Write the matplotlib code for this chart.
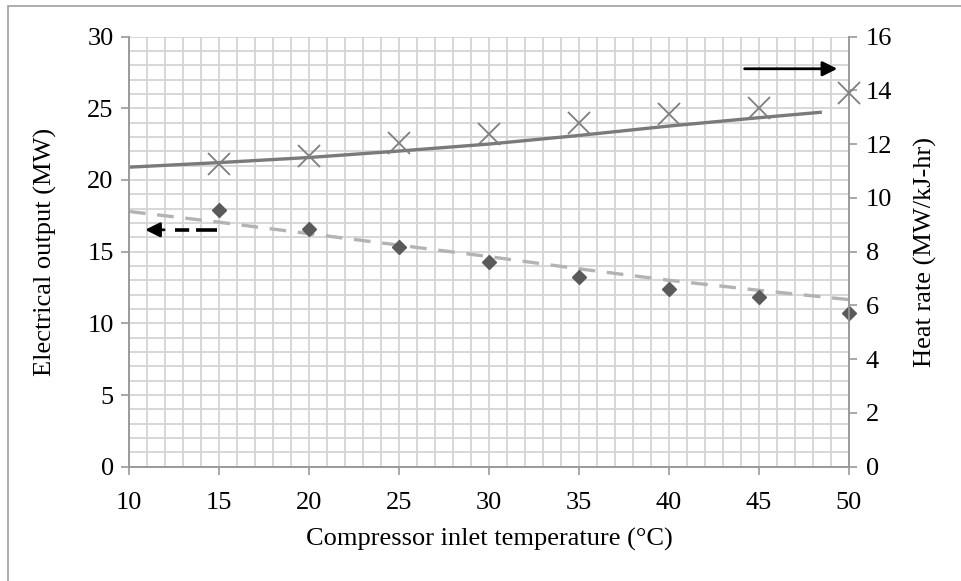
import matplotlib
matplotlib.use('Agg')
import matplotlib.pyplot as plt
from matplotlib.ticker import MultipleLocator
from matplotlib.patches import Rectangle

plt.rcParams['font.family'] = ['Liberation Serif', 'DejaVu Serif']

# data
temps = [15, 20, 25, 30, 35, 40, 45, 50]
elec_output = [17.91, 16.59, 15.31, 14.24, 13.26, 12.42, 11.84, 10.75]   # MW, left axis
heat_rate = [11.27, 11.54, 12.03, 12.39, 12.79, 13.10, 13.33, 13.89]     # right axis

# trend lines as drawn in the source chart
elec_trend_x = [10, 15, 20, 25, 30, 35, 40, 45, 50]
elec_trend_y = [17.8, 17.05, 16.25, 15.45, 14.65, 13.8, 13.0, 12.3, 11.65]
heat_trend_x = [10, 15, 20, 25, 30, 35, 40, 45, 48.4]
heat_trend_y = [11.14, 11.31, 11.5, 11.74, 12.0, 12.32, 12.67, 12.98, 13.18]

GRID = '#d4d4d4'
SPINE = '#9a9a9a'
FS = 19

fig = plt.figure(figsize=(9.62, 5.81), dpi=100)
fig.patches.append(Rectangle((8/962, -0.5), 2.0, 1.5 - 6/581, transform=fig.transFigure,
                             fill=False, edgecolor='#a0a0a0', lw=1.2))

ax = fig.add_axes([129/962, 1 - 466.7/581, 720/962, 430.2/581])
ax2 = ax.twinx()

ax.set_xlim(10, 50)
ax.set_ylim(0, 30)
ax2.set_ylim(0, 16)

ax.xaxis.set_major_locator(MultipleLocator(5))
ax.xaxis.set_minor_locator(MultipleLocator(1))
ax.yaxis.set_major_locator(MultipleLocator(5))
ax.yaxis.set_minor_locator(MultipleLocator(1))
ax2.yaxis.set_major_locator(MultipleLocator(2))

ax.set_axisbelow(True)
ax.grid(which='both', color=GRID, lw=1.3)
ax.tick_params(which='minor', length=0)
ax.tick_params(which='major', length=6, width=1.2, color=SPINE, labelsize=FS, pad=5)
ax.tick_params(axis='x', pad=12)
ax2.tick_params(which='major', length=6, width=1.2, color=SPINE, labelsize=FS, pad=6)

for a in (ax, ax2):
    a.spines['top'].set_visible(False)
    for s in ('left', 'right', 'bottom'):
        a.spines[s].set_color(SPINE)
        a.spines[s].set_linewidth(1.2)

# electrical output (left)
ax.plot(elec_trend_x, elec_trend_y, color='#b3b3b3', lw=2.4, ls=(0, (5, 3.5)), zorder=2)
ax.plot(temps, elec_output, 'D', color='#5a5a5a', ms=7.5, zorder=3, clip_on=False)

# heat rate (right)
ax2.plot(heat_trend_x, heat_trend_y, color='#7a7a7a', lw=2.4, zorder=2)
ax2.plot(temps, heat_rate, 'x', color='#7f7f7f', ms=16, mew=1.3, zorder=3, clip_on=False)

# direction arrows
ax.plot([14.9, 12.56], [16.52, 16.52], color='k', lw=2.6, ls=(0, (5.8, 1.9)), zorder=4)
ax.annotate('', xy=(10.9, 16.52), xytext=(11.95, 16.52),
            arrowprops=dict(arrowstyle='-|>', color='k', lw=2.0, mutation_scale=22,
                            shrinkA=0, shrinkB=0), zorder=4)
ax.annotate('', xy=(49.35, 27.75), xytext=(44.2, 27.75),
            arrowprops=dict(arrowstyle='-|>', color='k', lw=2.0, mutation_scale=22,
                            shrinkA=0, shrinkB=0), zorder=4)

ax.set_xlabel('Compressor inlet temperature (°C)', fontsize=FS, labelpad=10)
ax.set_ylabel('Electrical output (MW)', fontsize=FS, labelpad=22)
ax2.set_ylabel('Heat rate (MW/kJ-hr)', fontsize=FS, labelpad=16)

fig.savefig('out.png', dpi=100)
